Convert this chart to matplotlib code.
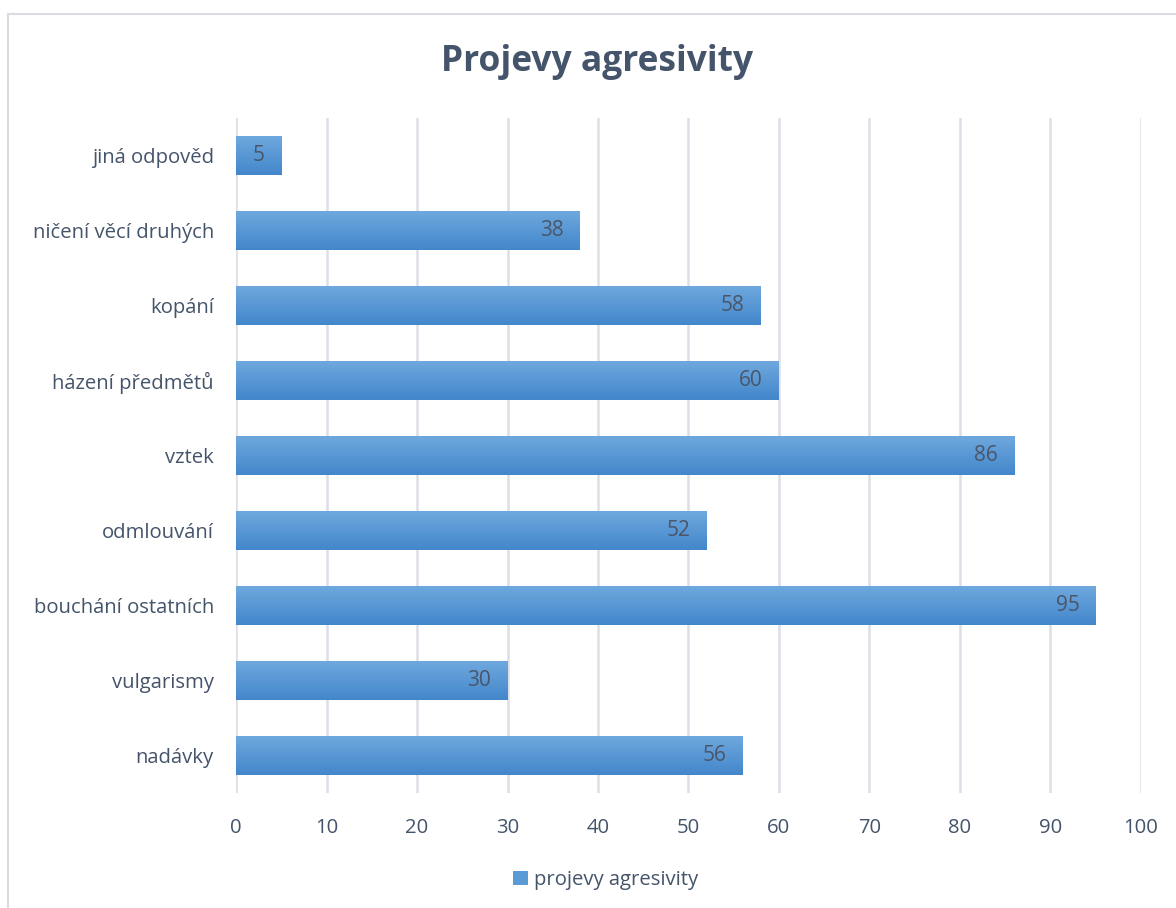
import matplotlib.pyplot as plt
import numpy as np
from matplotlib.patches import Rectangle
from matplotlib.colors import LinearSegmentedColormap

plt.rcParams['font.family'] = ['Open Sans', 'DejaVu Sans']

TEXT_COLOR = '#44546A'
GRID_COLOR = '#DCDFE5'

categories = ['nadávky', 'vulgarismy', 'bouchání ostatních', 'odmlouvání', 'vztek',
              'házení předmětů', 'kopání', 'ničení věcí druhých', 'jiná odpověd']
values = [56, 30, 95, 52, 86, 60, 58, 38, 5]
x_ticks = [0, 10, 20, 30, 40, 50, 60, 70, 80, 90, 100]

fig = plt.figure(figsize=(11.76, 9.08), dpi=100)
ax = fig.add_axes([0.2007, 0.1267, 0.7695, 0.7433])

# chart frame like the office export
fig.patches.append(Rectangle((8 / 1176, -0.1), 1.2, 1 - 14 / 908 + 0.1, transform=fig.transFigure,
                             fill=False, edgecolor='#D9DDE3', linewidth=1.5))

y = np.arange(len(categories))
bars = ax.barh(y, values, height=0.52, color='#5B9BD5', label='projevy agresivity', zorder=2)

# vertical gradient on each bar (lighter on top)
grad = np.linspace(0, 1, 64).reshape(-1, 1)
cmap = LinearSegmentedColormap.from_list('g', ['#6EA8DE', '#4387CB'])
for b in bars:
    x0, y0, w, h = b.get_x(), b.get_y(), b.get_width(), b.get_height()
    ax.imshow(grad, extent=(x0, x0 + w, y0, y0 + h), cmap=cmap, aspect='auto', zorder=3,
              interpolation='bicubic')

for yi, v in zip(y, values):
    ax.text(v - 1.8, yi, str(v), ha='right', va='center', fontsize=15, color='#4A5568', zorder=4)

ax.set_xlim(0, 100)
ax.set_ylim(-0.5, len(categories) - 0.5)
ax.set_xticks(x_ticks)
ax.set_yticks(y)
ax.set_yticklabels(categories)
ax.grid(axis='x', color=GRID_COLOR, linewidth=1.8, zorder=0)
ax.set_axisbelow(True)
for s in ax.spines.values():
    s.set_visible(False)
ax.tick_params(axis='both', length=0, labelsize=14.6, colors=TEXT_COLOR)
ax.tick_params(axis='y', pad=16)
ax.tick_params(axis='x', pad=18)

fig.text(0.508, 0.932, 'Projevy agresivity', ha='center', va='center', fontsize=25.5,
         fontweight='bold', color=TEXT_COLOR)

leg = fig.legend(handles=[bars], labels=['projevy agresivity'], loc='center',
                 bbox_to_anchor=(0.515, 0.031), frameon=False, fontsize=14.6,
                 handlelength=0.7, handleheight=0.7, handletextpad=0.3)
for t in leg.get_texts():
    t.set_color(TEXT_COLOR)

fig.savefig('out.png', dpi=100)
